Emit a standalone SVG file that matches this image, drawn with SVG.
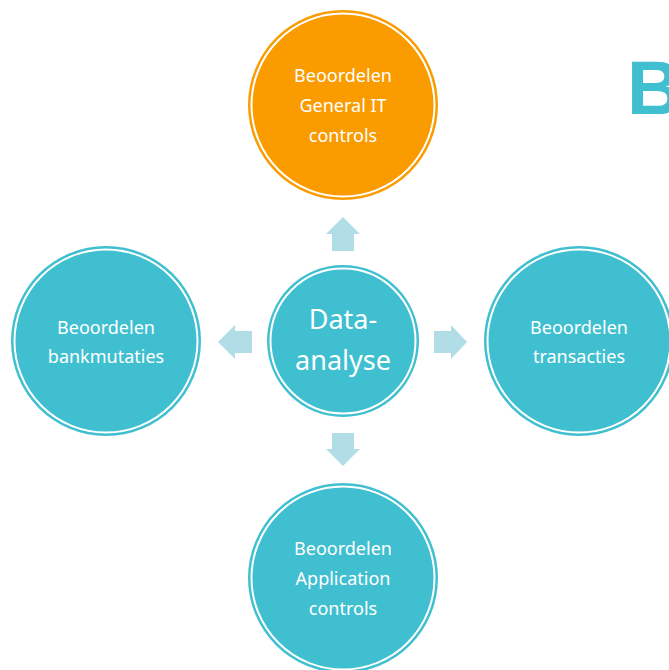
<svg xmlns="http://www.w3.org/2000/svg" width="669" height="670" viewBox="0 0 669 670">
<style>
.teal{fill:#3FBFD0}
.orange{fill:#FA9B00}
.ring{fill:none;stroke:#FFFFFF;stroke-width:2}
.lbl{font-family:"Noto Sans","DejaVu Sans",sans-serif;font-size:18px;fill:#FFFFFF;text-anchor:middle}
.big{font-size:27px}
.arrow{fill:#B0DDE6}
</style>
<rect width="669" height="670" fill="#FFFFFF"/>
<text x="627" y="114" font-family="'Liberation Sans',Arial,sans-serif" font-weight="bold" font-size="76" fill="#3FBFD0">B</text>
<g id="connectors">
<polygon class="arrow" points="343,217 360,234 354,234 354,251 332,251 332,234 326,234"/>
<polygon class="arrow" points="343,466 360,449 354,449 354,433 332,433 332,449 326,449"/>
<polygon class="arrow" points="467,342 451,325 451,331 434,331 434,353 451,353 451,359"/>
<polygon class="arrow" points="218,342 235,325 235,331 252,331 252,353 235,353 235,359"/>
</g>
<g id="node-top">
<circle class="orange" cx="343" cy="105" r="95"/>
<circle class="ring" cx="343" cy="105" r="91.5"/>
<text class="lbl" x="343" y="82">Beoordelen</text>
<text class="lbl" x="343" y="112">General IT</text>
<text class="lbl" x="343" y="142">controls</text>
</g>
<g id="node-center">
<circle class="teal" cx="343" cy="341" r="76"/>
<circle class="ring" cx="343" cy="341" r="72.5"/>
<text class="lbl big" x="343" y="329">Data-</text>
<text class="lbl big" x="343" y="370">analyse</text>
</g>
<g id="node-left">
<circle class="teal" cx="106" cy="341" r="95"/>
<circle class="ring" cx="106" cy="341" r="91.5"/>
<text class="lbl" x="106" y="334">Beoordelen</text>
<text class="lbl" x="106" y="363">bankmutaties</text>
</g>
<g id="node-right">
<circle class="teal" cx="579" cy="341" r="95"/>
<circle class="ring" cx="579" cy="341" r="91.5"/>
<text class="lbl" x="579" y="334">Beoordelen</text>
<text class="lbl" x="579" y="363">transacties</text>
</g>
<g id="node-bottom">
<circle class="teal" cx="343" cy="578" r="95"/>
<circle class="ring" cx="343" cy="578" r="91.5"/>
<text class="lbl" x="343" y="555">Beoordelen</text>
<text class="lbl" x="343" y="585">Application</text>
<text class="lbl" x="343" y="615">controls</text>
</g>
</svg>
